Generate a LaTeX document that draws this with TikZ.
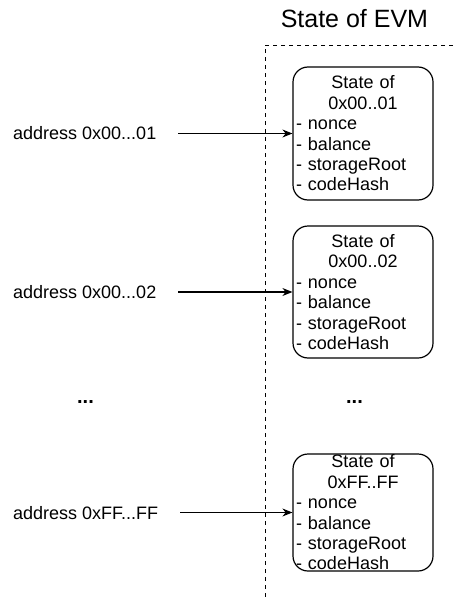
\documentclass[tikz,border=0pt]{standalone}
\usepackage{fontspec}
\setmainfont{Liberation Sans}
\usetikzlibrary{arrows.meta}
\begin{document}
\begin{tikzpicture}[x=1pt,y=-1pt,
  statebox/.style={draw, line width=1.2pt, rounded corners=15pt, minimum width=140pt,
    text width=134pt, inner xsep=3pt, inner ysep=0pt, align=left,
    font=\fontsize{18}{20.4}\selectfont},
  addr/.style={anchor=base west, inner sep=0pt, font=\fontsize{18}{20.4}\selectfont},
  dots/.style={inner sep=0pt, font=\fontsize{20}{20}\selectfont\bfseries},
  arr/.style={-{Stealth[length=10pt,width=8pt]}, line width=1.2pt},
  sepline/.style={dash pattern=on 4pt off 4pt, line width=1pt}]
\useasboundingbox (0,0) rectangle (453,597);

% title
\node[anchor=base, inner sep=0pt, font=\fontsize{25}{25}\selectfont] (title) at (354.4,27.7) {State of EVM};

% dashed boundary
\coordinate (dr) at (453,45);
\coordinate (dc) at (265,45);
\coordinate (db) at (265,597);
\draw[sepline] (dr) -- (dc) -- (db);

% state boxes
\node[statebox, minimum height=133pt] (b1) at (363,133.5)
  {{\centering State of\\0x00..01\par}- nonce\\- balance\\- storageRoot\\- codeHash};
\node[statebox, minimum height=132pt] (b2) at (363,292)
  {{\centering State of\\0x00..02\par}- nonce\\- balance\\- storageRoot\\- codeHash};
\node[statebox, minimum height=117pt] (b3) at (363,512.5)
  {{\centering State of\\0xFF..FF\par}- nonce\\- balance\\- storageRoot\\- codeHash};

% address labels
\node[addr] (a1) at (13,139) {address 0x00...01};
\node[addr] (a2) at (13,298) {address 0x00...02};
\node[addr] (a3) at (13,519) {address 0xFF...FF};

% dots
\node[dots] (l4) at (85.5,402) {...};
\node[dots] (r4) at (354.5,402) {...};

% arrows
\draw[arr] ([xshift=22pt]a1.east |- b1.west) -- (b1.west);
\draw[arr] ([xshift=22pt]a2.east |- b2.west) -- (b2.west);
\draw[arr] ([xshift=22pt]a3.east |- b3.west) -- (b3.west);
\end{tikzpicture}
\end{document}
